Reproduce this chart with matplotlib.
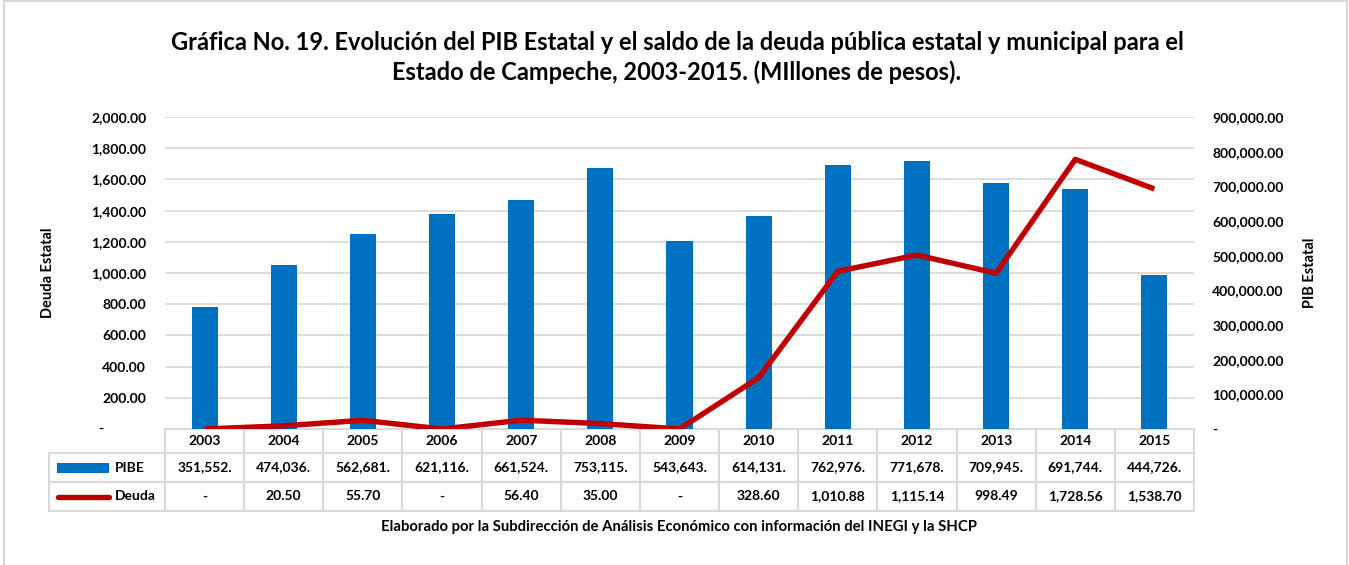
import matplotlib
matplotlib.use("Agg")
import matplotlib.pyplot as plt
import matplotlib.transforms as mtransforms
from matplotlib.patches import Rectangle
from matplotlib.lines import Line2D
from matplotlib.ticker import FuncFormatter
import numpy as np

plt.rcParams['font.family'] = ['Lato', 'DejaVu Sans']
plt.rcParams['font.weight'] = 'bold'
plt.rcParams['axes.labelweight'] = 'bold'

# data
years = ['2003', '2004', '2005', '2006', '2007', '2008', '2009',
         '2010', '2011', '2012', '2013', '2014', '2015']
pibe = [351552, 474036, 562681, 621116, 661524, 753115, 543643,
        614131, 762976, 771678, 709945, 691744, 444726]
deuda = [0, 20.50, 55.70, 0, 56.40, 35.00, 0,
         328.60, 1010.88, 1115.14, 998.49, 1728.56, 1538.70]

BLUE = '#0070C0'
RED = '#C00000'
GRID = '#D9D9D9'

W, H = 1349, 565
fig = plt.figure(figsize=(W/100, H/100), dpi=100)
# plot area in pixels: x 165..1194, y 117..429
ax = fig.add_axes([165/W, 1-429/H, (1194-165)/W, (429-117)/H])
ax2 = ax.twinx()

x = np.arange(len(years))

ax2.bar(x, pibe, width=0.33, color=BLUE, zorder=2)
# line uses the left (deuda) scale but is drawn over the bars
ax2.plot(x, deuda, transform=ax.transData, color=RED, lw=3.9,
         solid_joinstyle='round', solid_capstyle='butt', zorder=3)

ax.set_xlim(-0.5, len(years)-0.5)
ax.set_ylim(0, 2000)
ax.set_yticks(np.arange(0, 2001, 200))
ax2.set_ylim(0, 900000)
ax2.set_yticks(np.arange(0, 900001, 100000))
ax.grid(axis='y', color=GRID, lw=1.3)
ax.set_axisbelow(True)
ax.set_xticks([])

ax.yaxis.set_major_formatter(FuncFormatter(lambda v, p: f"{v:,.2f}" if v else ""))
ax2.yaxis.set_major_formatter(FuncFormatter(lambda v, p: f"{v:,.2f}" if v else "-"))
ax.tick_params(axis='y', length=0, pad=13.5, labelsize=10)
ax2.tick_params(axis='y', length=0, pad=13, labelsize=10)
ax.text(-0.062, 0, "-", transform=ax.get_yaxis_transform(), ha='center', va='center', fontsize=10)

for a in (ax, ax2):
    for s in a.spines.values():
        s.set_visible(False)

ax.set_ylabel("Deuda Estatal", fontsize=10.5)
ax.yaxis.set_label_coords(-0.107, 0.5)
ax2.set_ylabel("PIB Estatal", fontsize=10.5)
ax2.yaxis.set_label_coords(1.106, 0.5)

# data table below the plot
ph = 429 - 117
r0, r1, r2, r3 = 0, -(453-429)/ph, -(482-429)/ph, -(511-429)/ph
tx = ax.get_xaxis_transform()
tl = mtransforms.blended_transform_factory(fig.transFigure, ax.transAxes)
cell_kw = dict(facecolor='none', edgecolor=GRID, lw=1.5, clip_on=False)

for i, yr in enumerate(years):
    ax.add_patch(Rectangle((i-0.5, r1), 1, r0-r1, transform=tx, **cell_kw))
    ax.add_patch(Rectangle((i-0.5, r2), 1, r1-r2, transform=tx, **cell_kw))
    ax.add_patch(Rectangle((i-0.5, r3), 1, r2-r3, transform=tx, **cell_kw))
    ax.text(i, (r0+r1)/2, yr, transform=tx, ha='center', va='center', fontsize=10)
    ax.text(i, (r1+r2)/2, f"{pibe[i]:,}.", transform=tx, ha='center', va='center', fontsize=10)
    dtxt = f"{deuda[i]:,.2f}" if deuda[i] else "-"
    ax.text(i, (r2+r3)/2, dtxt, transform=tx, ha='center', va='center', fontsize=10)

lx0, lx1 = 49/W, 165/W
ax.add_patch(Rectangle((lx0, r2), lx1-lx0, r1-r2, transform=tl, **cell_kw))
ax.add_patch(Rectangle((lx0, r3), lx1-lx0, r2-r3, transform=tl, **cell_kw))
ax.add_patch(Rectangle((57/W, (r1+r2)/2 - 5/ph), 52/W, 10/ph, transform=tl,
                       facecolor=BLUE, edgecolor='none', clip_on=False))
ax.add_line(Line2D([58/W, 109/W], [(r2+r3)/2]*2, transform=tl, color=RED, lw=3.9,
                   solid_capstyle='round', clip_on=False))
ax.text(115/W, (r1+r2)/2, "PIBE", transform=tl, ha='left', va='center', fontsize=10)
ax.text(115/W, (r2+r3)/2, "Deuda", transform=tl, ha='left', va='center', fontsize=10)

fig.text(677/W, 1-42/H, "Gráfica No. 19. Evolución del PIB Estatal y el saldo de la deuda pública estatal y municipal para el",
         ha='center', va='center', fontsize=17)
fig.text(677/W, 1-72/H, "Estado de Campeche, 2003-2015. (MIllones de pesos).",
         ha='center', va='center', fontsize=17)
fig.text(679/W, 1-527/H, "Elaborado por la Subdirección de Análisis Económico con información del INEGI y la SHCP",
         ha='center', va='center', fontsize=10.7)

# outer chart border
fig.add_artist(Rectangle((4/W, -0.05), (1347-4)/W, 1.05 - 1/H, transform=fig.transFigure,
                         facecolor='none', edgecolor=GRID, lw=1.5))

fig.savefig("out.png", dpi=100)
